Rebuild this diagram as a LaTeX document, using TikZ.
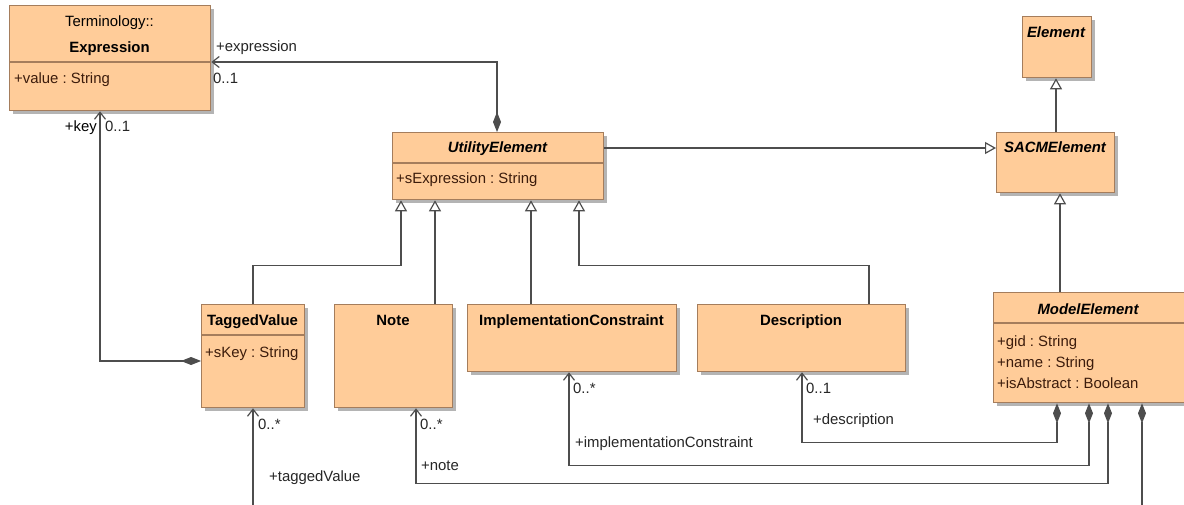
\documentclass[tikz,border=0pt]{standalone}
\usepackage{fontspec}
\setmainfont{Liberation Sans}
\usetikzlibrary{arrows.meta}
\frenchspacing

\definecolor{classfill}{RGB}{255,204,153}
\definecolor{classedge}{RGB}{165,125,92}
\definecolor{shadowc}{RGB}{180,180,180}
\definecolor{linec}{RGB}{77,77,77}
\definecolor{attrc}{RGB}{60,28,12}

\tikzset{
  boxst/.style={draw=classedge, fill=classfill, line width=1.3pt, inner sep=0pt, rectangle},
  divider/.style={draw=classedge, line width=1.2pt},
  txt/.style={font=\fontsize{14.9}{17}\selectfont, inner sep=0pt, text=black},
  title/.style={txt, font=\fontsize{14.9}{17}\selectfont\bfseries, anchor=base},
  atitle/.style={txt, font=\fontsize{14.9}{17}\selectfont\bfseries\itshape, anchor=base},
  attr/.style={txt, text=attrc, anchor=base west},
  lbl/.style={txt, text=black!85, anchor=base west},
  conn/.style={draw=linec, line width=1.2pt},
  assoc/.style={conn, -{Straight Barb[length=7pt,width=11pt,line width=1.2pt]}},
  comp/.style={conn, {Diamond[length=20pt,width=8pt,fill=linec]}-{Straight Barb[length=7pt,width=11pt,line width=1.2pt]}},
  compfree/.style={conn, {Diamond[length=20pt,width=8pt,fill=linec]}-},
  gen/.style={conn, -{Triangle[open,length=11pt,width=12pt,fill=white]}},
}

% class box with drop shadow: name, left, top, right, bottom
\newcommand\umlclass[5]{%
  \fill[shadowc] (#2+4,#3+4) rectangle (#4+4,#5+4);
  \node[boxst, anchor=north west, minimum width={(#4-#2)*1pt}, minimum height={(#5-#3)*1pt}] (#1) at (#2,#3) {};
}

\begin{document}
\begin{tikzpicture}[x=1pt,y=-1pt]
\clip (0,0) rectangle (1184,505);
\fill[white] (0,0) rectangle (1184,505);

% ---- classes ----
\umlclass{expr}{9}{5}{210}{110}
\draw[divider] (expr.north west |- 0,62) -- (expr.north east |- 0,62);
\node[txt, anchor=base] (exprPkg) at (109.5,27) {Terminology::};
\node[title] (exprT) at (109.5,53) {Expression};
\node[attr] (exprA) at (14,84) {+value : String};

\umlclass{util}{392}{132}{603}{199}
\draw[divider] (util.north west |- 0,163) -- (util.north east |- 0,163);
\node[atitle] (utilT) at (497.5,153) {UtilityElement};
\node[attr] (utilA) at (396,184) {+sExpression : String};

\umlclass{tv}{201}{304}{304}{407}
\draw[divider] (tv.north west |- 0,335) -- (tv.north east |- 0,335);
\node[title] (tvT) at (252.5,325) {TaggedValue};
\node[attr] (tvA) at (205,357) {+sKey : String};

\umlclass{note}{334}{304}{452}{407}
\node[title] (noteT) at (393,325) {Note};

\umlclass{impl}{467}{304}{676}{371}
\node[title] (implT) at (571.5,325) {ImplementationConstraint};

\umlclass{desc}{697}{304}{905}{371}
\node[title] (descT) at (801,325) {Description};

\umlclass{elem}{1022}{16}{1091}{77}
\node[atitle] (elemT) at (1056,38) {Element};

\umlclass{sacm}{996}{132}{1114}{192}
\node[atitle] (sacmT) at (1055,153) {SACMElement};

\umlclass{model}{993}{292}{1186}{402}
\draw[divider] (model.north west |- 0,323) -- (model.north east |- 0,323);
\node[atitle] (modelT) at (1088,314) {ModelElement};
\node[attr] (modelA1) at (997,346) {+gid : String};
\node[attr] (modelA2) at (997,367) {+name : String};
\node[attr] (modelA3) at (997,388) {+isAbstract : Boolean};

% ---- generalizations ----
\draw[gen] ([xshift=52pt]tv.north west) |- ([xshift=9pt,yshift=-65pt]util.south west) -- ([xshift=9pt]util.south west);
\draw[gen] ([xshift=101pt]note.north west) -- ([xshift=43pt]util.south west);
\draw[gen] ([xshift=64pt]impl.north west) -- ([xshift=139pt]util.south west);
\draw[gen] ([xshift=172pt]desc.north west) |- ([xshift=187pt,yshift=-65pt]util.south west) -- ([xshift=187pt]util.south west);
\draw[gen] ([yshift=-16pt]util.north east) -- ([yshift=-16pt]sacm.north west);
\draw[gen] ([xshift=60pt]sacm.north west) -- ([xshift=34pt]elem.south west);
\draw[gen] ([xshift=67pt]model.north west) -- ([xshift=64pt]sacm.south west);

% ---- compositions ----
\draw[comp] ([xshift=105pt]util.north west) |- ([yshift=-57pt]expr.north east);
\node[lbl] (lExpr) at (216,52) {+expression};
\node[lbl] (mExpr) at (213,84) {0..1};

\draw[comp] ([yshift=-57pt]tv.north west) -| ([xshift=91pt]expr.south west);
\node[txt, anchor=base east] (lKey) at (97,132) {+key};
\node[lbl] (mKey) at (105,132) {0..1};

\draw[comp] ([xshift=64pt]model.south west) -- ++(0,39) -| ([xshift=105pt]desc.south west);
\node[lbl] (mDesc) at (806,393) {0..1};
\node[lbl] (lDesc) at (813,424) {+description};

\draw[comp] ([xshift=96pt]model.south west) -- ++(0,62) -| ([xshift=102pt]impl.south west);
\node[lbl] (mImpl) at (573,393) {0..*};
\node[lbl] (lImpl) at (575,447) {+implementationConstraint};

\draw[comp] ([xshift=115pt]model.south west) -- ++(0,80) -| ([xshift=82pt]note.south west);
\node[lbl] (mNote) at (420,429) {0..*};
\node[lbl] (lNote) at (421,470) {+note};

\coordinate (modelOut) at (1142,515);
\draw[compfree] ([xshift=149pt]model.south west) -- (modelOut);

\coordinate (tvIn) at (253,515);
\draw[assoc] (tvIn) -- ([xshift=52pt]tv.south west);
\node[lbl] (mTv) at (258,429) {0..*};
\node[lbl] (lTv) at (269,481) {+taggedValue};
\end{tikzpicture}
\end{document}
